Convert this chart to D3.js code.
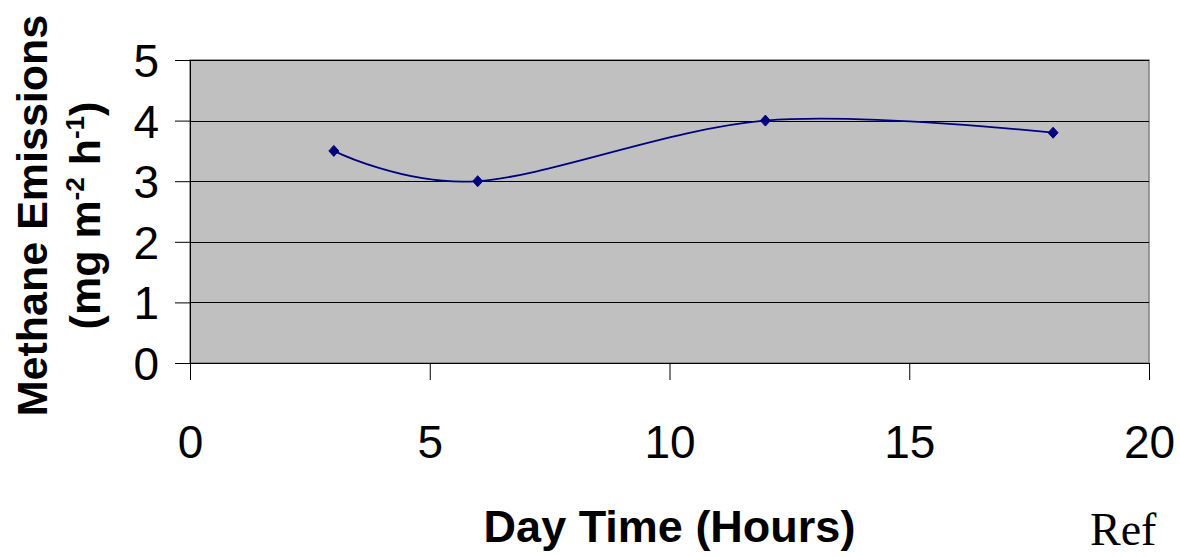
<!DOCTYPE html>
<html>
<head>
<meta charset="utf-8">
<script src="https://cdn.jsdelivr.net/npm/d3@7"></script>
<style>
  html, body { margin: 0; padding: 0; background: #fff; }
  svg { display: block; }
</style>
</head>
<body>
<svg id="chart" width="1180" height="557"></svg>
<script>
// Data
const hours = [3, 6, 12, 18];
const methane = [3.5, 3.0, 4.0, 3.8];
const xTicks = [0, 5, 10, 15, 20];
const yTicks = [0, 1, 2, 3, 4, 5];
const xTitle = "Day Time (Hours)";
const yTitle1 = "Methane Emissions";
const footnote = "Ref";

const svg = d3.select("#chart");
const W = 1180, H = 557;
const plot = { left: 190, right: 1149, top: 60, bottom: 363 };

const x = d3.scaleLinear().domain([0, 20]).range([plot.left, plot.right]);
const y = d3.scaleLinear().domain([0, 5]).range([plot.bottom, plot.top]);

svg.append("rect").attr("width", W).attr("height", H).attr("fill", "#fff");

// plot area
svg.append("rect")
  .attr("x", plot.left).attr("y", plot.top)
  .attr("width", plot.right - plot.left).attr("height", plot.bottom - plot.top)
  .attr("fill", "#C0C0C0").attr("stroke", "#808080").attr("stroke-width", 1.5);

// gridlines
svg.append("g").selectAll("line").data(yTicks.filter(d => d > 0)).join("line")
  .attr("x1", plot.left).attr("x2", plot.right)
  .attr("y1", d => Math.round(y(d)) + 0.5).attr("y2", d => Math.round(y(d)) + 0.5)
  .attr("stroke", "#000").attr("stroke-width", 1);

// y axis
const yAxis = d3.axisLeft(y).tickValues(yTicks).tickSize(15).tickPadding(16).tickFormat(d3.format("d"));
const gy = svg.append("g").attr("transform", `translate(${plot.left},0)`).call(yAxis);
gy.select(".domain").attr("stroke", "#000").attr("d", `M0.5,${plot.top}V${plot.bottom + 17}`);
gy.selectAll(".tick line").attr("stroke", "#000");
gy.selectAll(".tick text").attr("font-family", "'Liberation Sans', Arial, sans-serif")
  .attr("font-size", 46).attr("fill", "#000").attr("dy", "0.36em");

// x axis
const xAxis = d3.axisBottom(x).tickValues(xTicks).tickSize(17).tickPadding(0).tickFormat(d3.format("d"));
const gx = svg.append("g").attr("transform", `translate(0,${plot.bottom})`).call(xAxis);
gx.select(".domain").attr("stroke", "#000").attr("d", `M${plot.left - 15},0.5H${plot.right}`);
gx.selectAll(".tick line").attr("stroke", "#000");
gx.selectAll(".tick text").attr("font-family", "'Liberation Sans', Arial, sans-serif")
  .attr("font-size", 46).attr("fill", "#000").attr("dy", null).attr("y", 95);

// line
const pts = hours.map((h, i) => [h, methane[i]]);
const line = d3.line().x(d => x(d[0])).y(d => y(d[1])).curve(d3.curveCatmullRom.alpha(0));
svg.append("path").datum(pts).attr("d", line)
  .attr("fill", "none").attr("stroke", "#000080").attr("stroke-width", 1.8);

// markers
svg.append("g").selectAll("path").data(pts).join("path")
  .attr("transform", d => `translate(${x(d[0])},${y(d[1])})`)
  .attr("d", "M0,-5.5L5,0L0,5.5L-5,0Z")
  .attr("fill", "#000080").attr("stroke", "#000080").attr("stroke-width", 1);

// x title
svg.append("text").attr("x", (plot.left + plot.right) / 2).attr("y", 542)
  .attr("text-anchor", "middle")
  .attr("font-family", "'Liberation Sans', Arial, sans-serif")
  .attr("font-weight", "bold").attr("font-size", 45).attr("fill", "#000")
  .text(xTitle);

// y title
const cy = (plot.top + plot.bottom) / 2 + 4;
const yt = svg.append("g").attr("transform", `translate(47,${cy}) rotate(-90)`)
  .attr("font-family", "'Liberation Sans', Arial, sans-serif")
  .attr("font-weight", "bold").attr("font-size", 43).attr("fill", "#000");
yt.append("text").attr("x", 0).attr("y", 0).attr("text-anchor", "middle").text(yTitle1);
const t2 = yt.append("text").attr("x", 0).attr("y", 53).attr("text-anchor", "middle");
t2.append("tspan").text("(mg m");
t2.append("tspan").attr("font-size", 26).attr("dy", -16).text("-2");
t2.append("tspan").attr("dy", 16).text(" h");
t2.append("tspan").attr("font-size", 26).attr("dy", -16).text("-1");
t2.append("tspan").attr("dy", 16).text(")");

// footnote
svg.append("text").attr("x", 1090).attr("y", 545)
  .attr("font-family", "'Liberation Serif', 'Times New Roman', serif")
  .attr("font-size", 46).attr("fill", "#000").text(footnote);
</script>
</body>
</html>
